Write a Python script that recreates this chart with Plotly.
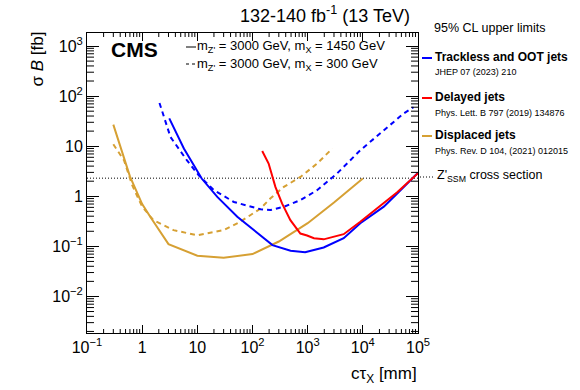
import math
import plotly.graph_objects as go

# ---- data ----
blue_solid_x = [3.1, 5.7, 12, 23, 53, 140, 230, 490, 900, 1950, 4500, 9000, 24000, 42000, 100000]
blue_solid_y = [36, 9.0, 2.26, 0.97, 0.39, 0.168, 0.106, 0.082, 0.076, 0.095, 0.145, 0.29, 0.62, 1.14, 2.95]

blue_dash_x = [2.06, 3.26, 6.5, 10.6, 20, 46, 140, 210, 370, 740, 1480, 3400, 9000, 24000, 55000, 83000]
blue_dash_y = [73, 15.2, 5.2, 2.63, 1.32, 0.77, 0.55, 0.53, 0.615, 0.84, 1.32, 2.84, 8.3, 20.7, 45, 60]

red_x = [150, 196, 260, 343, 486, 738, 975, 1300, 1950, 4490, 9000, 24000, 42000, 100000]
red_y = [8.0, 4.5, 1.54, 0.72, 0.334, 0.18, 0.165, 0.145, 0.138, 0.175, 0.31, 0.72, 1.2, 2.9]

gold_solid_x = [0.3, 0.6, 1.0, 1.4, 3, 10, 30, 100, 300, 1000, 3000, 10000]
gold_solid_y = [27, 2.5, 0.7, 0.39, 0.111, 0.065, 0.059, 0.070, 0.125, 0.29, 0.75, 2.26]

gold_dash_x = [0.3, 0.47, 0.66, 1.0, 1.6, 3.7, 10, 30, 60, 140, 210, 370, 740, 1480, 2800]
gold_dash_y = [10.9, 5.2, 1.66, 0.62, 0.334, 0.211, 0.166, 0.211, 0.31, 0.57, 0.9, 1.54, 2.43, 4.5, 9.0]

zssm_x = [0.1, 100000]
zssm_y = [2.3, 2.3]

x_tickvals = [0.1, 1, 10, 100, 1000, 10000, 100000]
x_ticktext = ["10<sup>\u22121</sup>", "1", "10", "10<sup>2</sup>", "10<sup>3</sup>", "10<sup>4</sup>", "10<sup>5</sup>"]
y_tickvals = [0.01, 0.1, 1, 10, 100, 1000]
y_ticktext = ["10<sup>\u22122</sup>", "10<sup>\u22121</sup>", "1", "10", "10<sup>2</sup>", "10<sup>3</sup>"]

x_minor = [m * 10.0 ** k for k in range(-1, 5) for m in range(2, 10)]
y_minor = [m * 10.0 ** k for k in range(-3, 4) for m in range(2, 10)]

BLUE = "#0000ff"
RED = "#ff0000"
GOLD = "#d6a033"
FONT = "Liberation Sans"

W, H = 580, 390
L, T = 87, 33
R = W - 418
B = H - 333
PW, PH = W - L - R, H - T - B

def px(xp):
    return (xp - L) / PW

def py(yp):
    return (H - B - yp) / PH

XR = [-1, 5]
YR = [-2.73, 3.26]

def xfrac(v):
    return (math.log10(v) - XR[0]) / (XR[1] - XR[0])

def yfrac(v):
    return (math.log10(v) - YR[0]) / (YR[1] - YR[0])

fig = go.Figure()
fig.add_trace(go.Scatter(x=zssm_x, y=zssm_y, mode="lines",
                         line=dict(color="black", width=1, dash="1px,2px")))
fig.add_trace(go.Scatter(x=gold_dash_x, y=gold_dash_y, mode="lines",
                         line=dict(color=GOLD, width=2, dash="5px,4px")))
fig.add_trace(go.Scatter(x=gold_solid_x, y=gold_solid_y, mode="lines",
                         line=dict(color=GOLD, width=2)))
fig.add_trace(go.Scatter(x=blue_dash_x, y=blue_dash_y, mode="lines",
                         line=dict(color=BLUE, width=2, dash="5px,4px")))
fig.add_trace(go.Scatter(x=blue_solid_x, y=blue_solid_y, mode="lines",
                         line=dict(color=BLUE, width=2)))
fig.add_trace(go.Scatter(x=red_x, y=red_y, mode="lines",
                         line=dict(color=RED, width=2)))

axis_common = dict(showgrid=False, zeroline=False, showline=True, linecolor="black",
                   linewidth=1, mirror="allticks", ticks="inside", tickcolor="black",
                   tickwidth=1, tickfont=dict(family=FONT, size=16, color="black"))

fig.update_layout(
    xaxis=dict(type="log", range=XR, tickmode="array", tickvals=x_tickvals,
               ticktext=x_ticktext, ticklen=8, **axis_common),
    yaxis=dict(type="log", range=YR, tickmode="array", tickvals=y_tickvals,
               ticktext=y_ticktext, ticklen=12, **axis_common),
)

ann = []
def text(x, y, s, size, xanchor="left", yanchor="middle", bold=False, angle=0, color="black"):
    if bold:
        s = "<b>" + s + "</b>"
    ann.append(dict(x=px(x), y=py(y), xref="paper", yref="paper", text=s, showarrow=False,
                    xanchor=xanchor, yanchor=yanchor, textangle=angle, borderpad=0,
                    font=dict(family=FONT, size=size, color=color)))

text(411, 14, "132-140 fb<sup>-1</sup> (13 TeV)", 18, xanchor="right")
text(110, 49, "CMS", 21, bold=True)
text(196, 47, "m<sub>Z'</sub> = 3000 GeV, m<sub>X</sub> = 1450 GeV", 13)
text(196, 64, "m<sub>Z'</sub> = 3000 GeV, m<sub>X</sub> = 300 GeV", 13)
text(418, 375, "c\u03c4<sub>X</sub> [mm]", 17, xanchor="right")
text(37, 31, "\u03c3 <i>B</i> [fb]", 17, xanchor="center", yanchor="top", angle=-90)

text(433, 28, "95% CL upper limits", 12.5)
text(434, 57, "Trackless and OOT jets", 12, bold=True)
text(434, 72, "JHEP 07 (2023) 210", 9)
text(434, 97, "Delayed jets", 12, bold=True)
text(434, 113, "Phys. Lett. B 797 (2019) 134876", 9)
text(434, 135, "Displaced jets", 12, bold=True)
text(434, 151, "Phys. Rev. D 104, (2021) 012015", 9)
text(436, 176, "Z'<sub>SSM</sub> cross section", 12.5)

shapes = []
def seg(x0, x1, y, color, width=2, dash="solid"):
    shapes.append(dict(type="line", xref="paper", yref="paper", x0=px(x0), x1=px(x1),
                       y0=py(y), y1=py(y), line=dict(color=color, width=width, dash=dash)))

seg(186, 196, 47, "black", 1)
seg(186, 196, 64, "black", 1, "3px,3px")
seg(422, 432, 58, BLUE)
seg(422, 432, 98, RED)
seg(422, 432, 136, GOLD)
seg(420, 434, 177, "black", 1, "1px,2px")

# minor ticks (inside, on all four sides), mapped from the log axis ranges
MX, MY = 4.0, 7.0
tick_line = dict(color="black", width=1)
for v in x_minor:
    f = xfrac(v)
    if 0 < f < 1:
        shapes.append(dict(type="line", xref="paper", yref="paper", x0=f, x1=f, y0=0, y1=MX / PH,
                           line=tick_line, layer="above"))
        shapes.append(dict(type="line", xref="paper", yref="paper", x0=f, x1=f, y0=1, y1=1 - MX / PH,
                           line=tick_line, layer="above"))
for v in y_minor:
    f = yfrac(v)
    if 0 < f < 1:
        shapes.append(dict(type="line", xref="paper", yref="paper", x0=0, x1=MY / PW, y0=f, y1=f,
                           line=tick_line, layer="above"))
        shapes.append(dict(type="line", xref="paper", yref="paper", x0=1, x1=1 - MY / PW, y0=f, y1=f,
                           line=tick_line, layer="above"))

fig.update_layout(width=W, height=H, margin=dict(l=L, r=R, t=T, b=B),
                  plot_bgcolor="white", paper_bgcolor="white", showlegend=False,
                  annotations=ann, shapes=shapes)

fig.write_html("out.html", config={"displayModeBar": False},
               post_script="document.body.style.margin='0px';")
